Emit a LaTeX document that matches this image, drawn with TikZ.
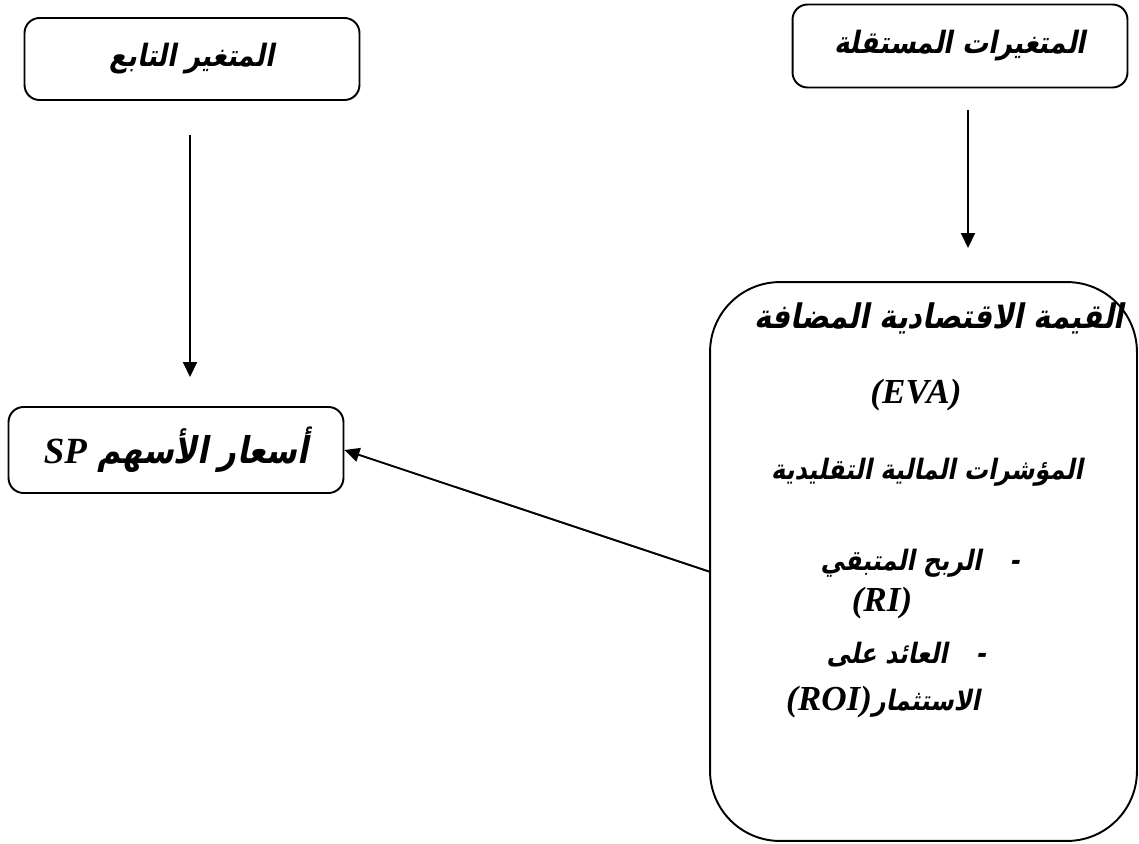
\documentclass[tikz,border=0pt]{standalone}
\usepackage{fontspec}
\usepackage{tikz}
\usetikzlibrary{arrows.meta,positioning}
\TeXXeTstate=1
\newfontfamily\arabicfont[Script=Arabic,FakeSlant=0.2,FakeStretch=0.85]{DejaVu Sans}
\newfontfamily\latinfont{Liberation Serif}
\newcommand{\artxt}[1]{{\arabicfont\bfseries\beginR #1\endR}}
\newcommand{\latxt}[1]{{\latinfont\bfseries\itshape #1}}

\begin{document}
\begin{tikzpicture}[x=0.02cm, y=-0.02cm, line width=1.1pt,
varbox/.style={draw, rounded corners=0.3cm, minimum width=6.7cm, minimum height=1.7cm, inner sep=0pt, font=\fontsize{17.5}{20}\selectfont},
bigbox/.style={draw, rounded corners=1.4cm, minimum width=8.54cm, minimum height=11.18cm},
evatext/.style={inner sep=0pt, font=\fontsize{16}{19}\selectfont},
evabig/.style={inner sep=0pt, font=\fontsize{19.3}{23}\selectfont},
>={Triangle[length=0.3cm,width=0.28cm]}]

   \useasboundingbox (0,0) rectangle (1139,843);

   % the two headings
   \node[varbox, minimum height=1.64cm] (dep) at (192,59) {\artxt{المتغير التابع}};
   \node[varbox, minimum height=1.66cm] (indep) at (960,46) {\artxt{المتغيرات المستقلة}};

   % dependent variable
   \node[varbox, minimum height=1.72cm, font=\fontsize{21}{25}\selectfont] (sp) at (176,450)
        {\artxt{أسعار الأسهم \beginL\latxt{SP}\endL}};

   % independent variables
   \node[bigbox] (eva) at (923.5,561.5) {};
   \node[evabig] (eva1) at (939,318) {\artxt{القيمة الاقتصادية المضافة}};
   \node[evabig, font=\fontsize{20}{24}\selectfont] (eva2) at (916,395) {\latxt{(EVA)}};
   \node[evatext] (trad) at (927,472) {\artxt{المؤشرات المالية التقليدية}};
   \node[evatext] (ri1) at (920,563) {\artxt{-\hspace{1em}الربح المتبقي}};
   \node[evabig, font=\fontsize{20}{24}\selectfont] (ri2) at (882,603) {\latxt{(RI)}};
   \node[evatext] (roi1) at (906,655) {\artxt{-\hspace{1em}العائد على}};
   \node[evatext] (roi2) at (883,702) {\artxt{الاستثمار\beginL\latxt{\fontsize{20}{24}\selectfont(ROI)}\endL}};

   % arrows
   \coordinate (dep_from) at (190,135);
   \coordinate (dep_to) at (190,377);
   \coordinate (ind_from) at (968,110);
   \coordinate (ind_to) at (968,248);

   \path [->] (dep_from) edge node {} (dep_to)
              (ind_from) edge node {} (ind_to);

   \path [->] ([yshift=-0.2cm]eva.west) edge node {} (sp.east);

\end{tikzpicture}
\end{document}
